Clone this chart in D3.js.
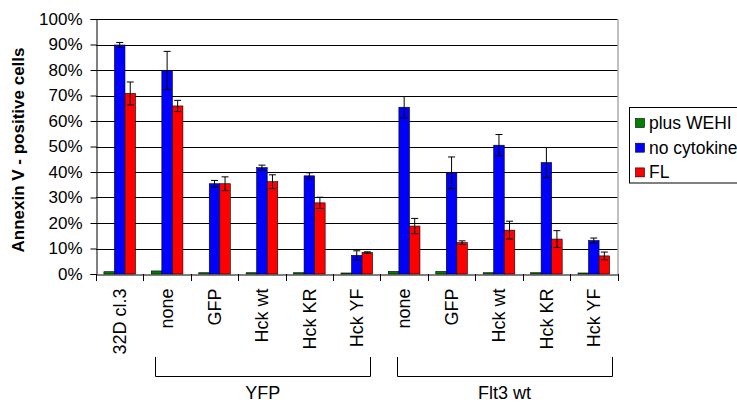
<!DOCTYPE html>
<html><head><meta charset="utf-8">
<script src="https://cdn.jsdelivr.net/npm/d3@7"></script>
<style>
html,body{margin:0;padding:0;background:#fff;}
svg{display:block;font-family:"Liberation Sans",Arial,sans-serif;}
</style></head>
<body><svg id="c" width="737" height="403"></svg>
<script>
// ---- data ----
const categories = ["32D cl.3","none","GFP","Hck wt","Hck KR","Hck YF","none","GFP","Hck wt","Hck KR","Hck YF"];
const seriesNames = ["plus WEHI","no cytokine","FL"];
const seriesColors = ["#008000","#0000FF","#FF0000"];
const plusWEHI   = [0.9,1.2,0.5,0.5,0.5,0.4,1.0,1.0,0.5,0.5,0.4];
const noCytokine = [89.8,79.8,35.4,41.7,38.5,7.3,65.4,39.7,50.5,43.7,13.1];
const noCytokineErr = [1.0,7.5,1.3,1.0,1.2,1.8,4.2,6.2,4.2,5.9,1.0];
const FL         = [70.8,65.9,35.4,36.2,27.9,8.4,18.8,12.3,17.2,13.7,7.1];
const FLErr      = [4.5,2.2,2.7,2.7,2.2,0.3,3.0,0.7,3.5,3.3,1.5];
const yTicks = [0,10,20,30,40,50,60,70,80,90,100];
const groupNames = ["YFP","Flt3 wt"];
const groupFirst = [1,6];
const groupLast  = [5,10];
const yTitle = "Annexin V - positive cells";

// ---- layout ----
const FONT = "'Liberation Sans',Arial,sans-serif";
const svg = d3.select("#c");
const L = 96, R = 617.5, T = 19, B = 274;
const idx = d3.range(categories.length);
const x = d3.scaleBand().domain(idx).range([L, R]).paddingInner(0).paddingOuter(0);
const bw = x.bandwidth();
const barW = bw / 4.5;
const xs = d3.scaleBand().domain([0,1,2]).range([0.75*barW, 0.75*barW + 3*barW]);
const y = d3.scaleLinear().domain([0,100]).range([B, T]);

// gridlines
svg.append("g").selectAll("line").data(yTicks.filter(d=>d>0)).join("line")
  .attr("x1", L).attr("x2", R).attr("y1", d=>Math.round(y(d))+0.5).attr("y2", d=>Math.round(y(d))+0.5)
  .attr("stroke", "#000").attr("stroke-width", 1);
// right border
svg.append("line").attr("x1", R+0.5).attr("x2", R+0.5).attr("y1", T).attr("y2", B)
  .attr("stroke", "#808080").attr("stroke-width", 1);

// bars
const series = [
  {vals: plusWEHI, err: null},
  {vals: noCytokine, err: noCytokineErr},
  {vals: FL, err: FLErr}
];
series.forEach((s, si) => {
  const g = svg.append("g");
  g.selectAll("rect").data(s.vals).join("rect")
    .attr("x", (d,i) => x(i) + xs(si))
    .attr("y", d => y(d))
    .attr("width", barW)
    .attr("height", d => y(0) - y(d))
    .attr("fill", seriesColors[si])
    .attr("stroke", "#000").attr("stroke-width", 0.6);
  if (s.err) {
    const eg = svg.append("g").attr("stroke", "#000").attr("stroke-width", 1);
    s.vals.forEach((v, i) => {
      const cx = x(i) + xs(si) + barW/2;
      const e = s.err[i];
      eg.append("line").attr("x1", cx).attr("x2", cx).attr("y1", y(v+e)).attr("y2", y(v-e));
      eg.append("line").attr("x1", cx-3.5).attr("x2", cx+3.5).attr("y1", y(v+e)).attr("y2", y(v+e));
      eg.append("line").attr("x1", cx-3.5).attr("x2", cx+3.5).attr("y1", y(v-e)).attr("y2", y(v-e));
    });
  }
});

// y axis
const yAxis = d3.axisLeft(y).tickValues(yTicks).tickFormat(d => d + "%").tickSize(6).tickPadding(8);
const ya = svg.append("g").attr("transform", `translate(${L+0.5},0)`).call(yAxis);
ya.select(".domain").attr("stroke", "#000");
ya.selectAll(".tick line").attr("stroke", "#000");
ya.selectAll("text").attr("font-size", 17).attr("fill", "#000").attr("font-family", FONT);

// x axis
const xAxis = d3.axisBottom(x).tickFormat(i => categories[i]).tickSize(0).tickPadding(0);
const xa = svg.append("g").attr("transform", `translate(0,${B+0.5})`).call(xAxis);
xa.select(".domain").attr("stroke", "#000");
xa.selectAll("text")
  .attr("font-size", 18).attr("fill", "#000").attr("font-family", FONT)
  .attr("transform", "rotate(-90)")
  .attr("text-anchor", "end")
  .attr("dy", "0.35em")
  .attr("x", -14).attr("y", 0);
// boundary ticks
svg.append("g").selectAll("line").data(d3.range(categories.length+1)).join("line")
  .attr("x1", i => Math.round(L + i*bw)+0.5).attr("x2", i => Math.round(L + i*bw)+0.5)
  .attr("y1", B).attr("y2", B+7).attr("stroke", "#000");

// group brackets
const bracketInset = [[0.25, 0.79],[0.34, 0.89]];
groupNames.forEach((gname, gi) => {
  const x1 = x(groupFirst[gi]) + bw*bracketInset[gi][0];
  const x2 = x(groupLast[gi]) + bw*bracketInset[gi][1];
  svg.append("path")
    .attr("d", `M${Math.round(x1)+0.5},357V376.5H${Math.round(x2)+0.5}V357`)
    .attr("fill", "none").attr("stroke", "#000").attr("stroke-width", 1);
  svg.append("text").attr("x", (x1+x2)/2).attr("y", 399)
    .attr("text-anchor", "middle").attr("font-size", 18).text(gname);
});

// y title
svg.append("text")
  .attr("transform", `translate(24,150) rotate(-90)`)
  .attr("text-anchor", "middle").attr("font-weight", "bold").attr("font-size", 17)
  .text(yTitle);

// legend
const lg = svg.append("g");
lg.append("rect").attr("x", 629.5).attr("y", 107.5).attr("width", 130).attr("height", 75.5)
  .attr("fill", "#fff").attr("stroke", "#000").attr("stroke-width", 1);
seriesNames.forEach((n, i) => {
  const cy = 123 + i*24.7;
  lg.append("rect").attr("x", 635.5).attr("y", cy-4.5).attr("width", 9).attr("height", 9)
    .attr("fill", seriesColors[i]).attr("stroke", "#000").attr("stroke-width", 0.6);
  lg.append("text").attr("x", 649).attr("y", cy+6).attr("font-size", 17.5).text(n);
});
</script></body></html>
